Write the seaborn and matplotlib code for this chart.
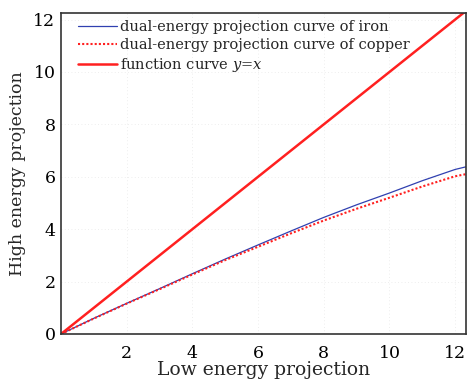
import numpy as np
import pandas as pd
import matplotlib
matplotlib.use("Agg")
import matplotlib.pyplot as plt
import seaborn as sns

# Low energy projection sample points and corresponding high energy projections
low_energy = [0, 1, 2, 3, 4, 5, 6, 7, 8, 9, 10, 11, 12, 12.33]
iron_high = [0, 0.60, 1.17, 1.73, 2.30, 2.86, 3.40, 3.93, 4.45, 4.93, 5.38, 5.85, 6.28, 6.38]
copper_high = [0, 0.59, 1.16, 1.71, 2.27, 2.82, 3.33, 3.84, 4.33, 4.78, 5.20, 5.63, 6.02, 6.10]
identity_x = [0, 12.33]
identity_y = [0, 12.33]

x_ticks = [2, 4, 6, 8, 10, 12]
y_ticks = [0, 2, 4, 6, 8, 10, 12]

sns.set_theme(style="white")
plt.rcParams["font.family"] = ["DejaVu Serif"]
plt.rcParams["mathtext.fontset"] = "dejavuserif"

fig = plt.figure(figsize=(4.67, 3.82), dpi=100)
ax = fig.add_axes([61 / 467, 48 / 382, (466 - 61) / 467, (334 - 13) / 382])

iron_df = pd.DataFrame({"x": low_energy, "y": iron_high})
copper_df = pd.DataFrame({"x": low_energy, "y": copper_high})
ident_df = pd.DataFrame({"x": identity_x, "y": identity_y})

sns.lineplot(data=iron_df, x="x", y="y", ax=ax, color="#3040b0", lw=0.9,
             label="dual-energy projection curve of iron", sort=False)
sns.lineplot(data=copper_df, x="x", y="y", ax=ax, color="#ff2020", lw=1.5,
             linestyle=(0, (1, 1)), label="dual-energy projection curve of copper", sort=False)
sns.lineplot(data=ident_df, x="x", y="y", ax=ax, color="#ff2020", lw=1.8,
             label=r"function curve $y$=$x$", sort=False)

ax.set_xlim(0, 12.33)
ax.set_ylim(0, 12.25)
ax.set_xticks(x_ticks)
ax.set_yticks(y_ticks)
ax.tick_params(direction="in", length=5, width=1, colors="#222222", labelsize=12.5,
               labelcolor="black", pad=4)
ax.tick_params(axis="x", pad=8)
for s in ax.spines.values():
    s.set_color("#333333")
    s.set_linewidth(1.2)

ax.grid(True, linestyle=(0, (1, 3)), color="#e8e8e8", lw=0.6)

ax.set_xlabel("Low energy projection", fontsize=13.5, labelpad=-1)
ax.set_ylabel("High energy projection", fontsize=12.5, labelpad=5)

leg = ax.legend(loc="upper left", bbox_to_anchor=(0.042, 0.977), frameon=False,
                fontsize=10.5, handlelength=2.67, handletextpad=0.2,
                labelspacing=0.27, borderpad=0, borderaxespad=0)

fig.savefig("out.png", dpi=100)
